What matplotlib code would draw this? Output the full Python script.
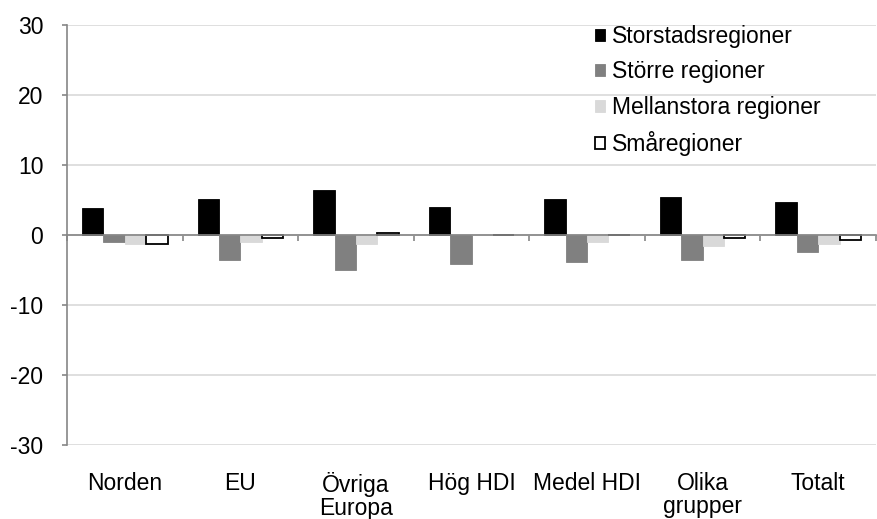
import numpy as np
import matplotlib
matplotlib.use("Agg")
import matplotlib.pyplot as plt

plt.rcParams['font.family'] = ['Liberation Sans', 'DejaVu Sans']
plt.rcParams['axes.unicode_minus'] = False

categories = ['Norden', 'EU', 'Övriga\nEuropa', 'Hög HDI', 'Medel HDI', 'Olika\ngrupper', 'Totalt']
series_names = ['Storstadsregioner', 'Större regioner', 'Mellanstora regioner', 'Småregioner']
storstad = [3.8, 5.2, 6.4, 4.0, 5.2, 5.5, 4.7]
storre = [-1.0, -3.6, -5.0, -4.1, -3.9, -3.6, -2.4]
mellan = [-1.3, -1.0, -1.3, 0.0, -1.0, -1.6, -1.3]
sma = [-1.3, -0.4, 0.3, 0.0, 0.0, -0.4, -0.7]

values = [storstad, storre, mellan, sma]
faces = ['#000000', '#808080', '#D9D9D9', '#FFFFFF']
edges = ['#000000', '#808080', '#D9D9D9', '#000000']

fs = 16.5

fig = plt.figure(figsize=(8.77, 5.19), dpi=100)
ax = fig.add_axes([67 / 877, 74 / 519, 809 / 877, 420 / 519])

x = np.arange(len(categories))
w = 0.185
for i, (vals, fc, ec) in enumerate(zip(values, faces, edges)):
    lw = 1.3 if i == 3 else 0.6
    ax.bar(x + (i - 1.5) * w, vals, w, color=fc, edgecolor=ec, linewidth=lw,
           label=series_names[i], zorder=3)

ax.set_xlim(-0.5, len(categories) - 0.5)
ax.set_ylim(-30, 30)
ax.set_yticks(range(-30, 31, 10))
ax.yaxis.grid(True, color='#D9D9D9', linewidth=1.2, zorder=0)
ax.set_axisbelow(True)

for s in ['top', 'right']:
    ax.spines[s].set_visible(False)
ax.spines['left'].set_color('#868686')
ax.spines['left'].set_linewidth(1.2)
ax.spines['bottom'].set_position(('data', 0))
ax.spines['bottom'].set_color('#868686')
ax.spines['bottom'].set_linewidth(1.2)
ax.spines['bottom'].set_zorder(4)

ax.set_xticks(np.arange(-0.5, len(categories), 1.0))
ax.set_xticklabels([])
ax.tick_params(axis='x', direction='out', length=4.5, width=1.2, color='#868686')
ax.tick_params(axis='y', direction='out', length=3.6, width=1.2, color='#868686',
               labelsize=fs, pad=13.5)

sec = ax.secondary_xaxis(0)
sec.set_xticks(x)
sec.set_xticklabels(categories, fontsize=fs, linespacing=0.97)
sec.tick_params(length=0, pad=19.5)
sec.spines['bottom'].set_visible(False)

ax.legend(loc='upper left', bbox_to_anchor=((595 - 67) / 809, 1.0), frameon=False,
          fontsize=fs, handlelength=0.42, handleheight=0.42, handletextpad=0.34,
          labelspacing=0.54, borderaxespad=0, borderpad=0)

fig.savefig('out.png', dpi=100)
